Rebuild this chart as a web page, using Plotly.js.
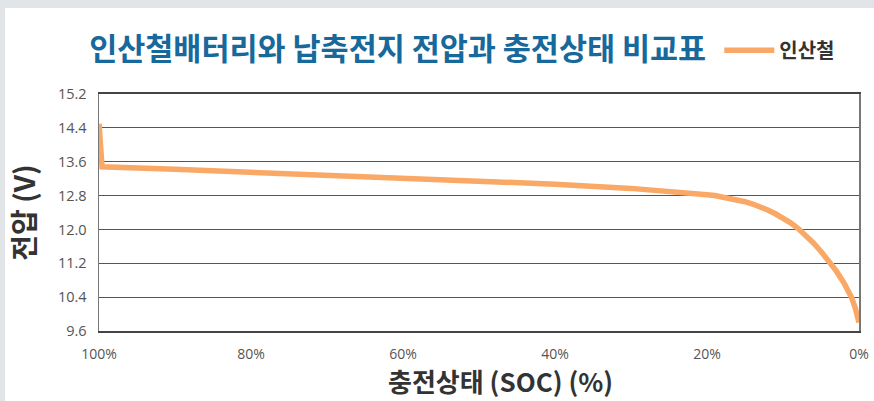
<!DOCTYPE html>
<html><head><meta charset="utf-8">
<script src="https://cdn.plot.ly/plotly-3.0.1.min.js"></script>
<style>
html,body{margin:0;padding:0;background:#e1e5e8;}
#bg{position:absolute;left:5px;top:8px;width:869px;height:393px;background:#fff;}
#chart{position:absolute;left:0;top:0;width:874px;height:401px;}
</style></head>
<body><div id="bg"></div><div id="chart"></div>
<script>
const soc = [100, 99.6, 90, 80, 70, 60, 50, 40, 30, 25, 22, 20, 19, 18, 17, 16, 15, 14, 13, 12, 11, 10, 9, 8, 7, 6, 5, 4, 3, 2, 1.5, 1, 0.5, 0];
const voltage = [14.5, 13.48, 13.42, 13.35, 13.29, 13.22, 13.15, 13.07, 12.97, 12.91, 12.86, 12.82, 12.80, 12.77, 12.74, 12.70, 12.655, 12.60, 12.535, 12.46, 12.37, 12.27, 12.155, 12.02, 11.86, 11.68, 11.48, 11.27, 11.02, 10.74, 10.58, 10.40, 10.15, 9.8];
const xTicks = [100, 80, 60, 40, 20, 0];
const xTickLabels = ['100%', '80%', '60%', '40%', '20%', '0%'];
const yTicks = [9.6, 10.4, 11.2, 12.0, 12.8, 13.6, 14.4, 15.2];
const yTickLabels = ['9.6', '10.4', '11.2', '12.0', '12.8', '13.6', '14.4', '15.2'];

const kr = '"Noto Sans CJK KR", "Noto Sans", sans-serif';
const trace = {
  x: soc, y: voltage, type: 'scatter', mode: 'lines', name: '인산철',
  line: {color: '#f9a866', width: 5.5, shape: 'linear'}
};
const layout = {
  width: 874, height: 401,
  paper_bgcolor: 'rgba(0,0,0,0)', plot_bgcolor: '#fff',
  margin: {l: 99, r: 15, t: 94, b: 70},
  title: {text: '인산철배터리와 납축전지 전압과 충전상태 비교표', font: {family: kr, size: 30.5, color: '#17699b', weight: 'bold'},
    xref: 'container', yref: 'container', x: 0.455, xanchor: 'center', y: 0.878, yanchor: 'middle'},
  showlegend: true,
  legend: {orientation: 'h', xref: 'container', yref: 'container', x: 0.823, xanchor: 'left', y: 0.875, yanchor: 'middle',
    itemwidth: 50, font: {family: kr, size: 20, color: '#333', weight: 'bold'}, bgcolor: 'rgba(0,0,0,0)'},
  xaxis: {range: [100, 0], tickvals: xTicks, ticktext: xTickLabels, showgrid: false, zeroline: false,
    showline: true, linecolor: '#444', linewidth: 2, mirror: true, ticks: '', ticklabelstandoff: 9,
    tickfont: {family: '"Open Sans", sans-serif', size: 14, color: '#555'}},
  yaxis: {range: [9.6, 15.2], tickvals: yTicks, ticktext: yTickLabels, showgrid: true, gridcolor: '#555', gridwidth: 1,
    zeroline: false, showline: true, linecolor: '#777', linewidth: 1.5, mirror: true, ticks: '',
    tickfont: {family: '"Open Sans", sans-serif', size: 14.5, color: '#555'}, ticklabelstandoff: 8,
    title: {text: '전압 (V)', font: {family: kr, size: 28, color: '#333', weight: 'bold'}, standoff: 14}},
  annotations: [{text: '충전상태 (SOC) (%)', xref: 'paper', yref: 'paper', x: 0.528, y: -0.21,
    xanchor: 'center', yanchor: 'middle', showarrow: false,
    font: {family: kr, size: 26, color: '#333', weight: 'bold'}}]
};
Plotly.newPlot('chart', [trace], layout, {displayModeBar: false, staticPlot: true});
</script></body></html>
